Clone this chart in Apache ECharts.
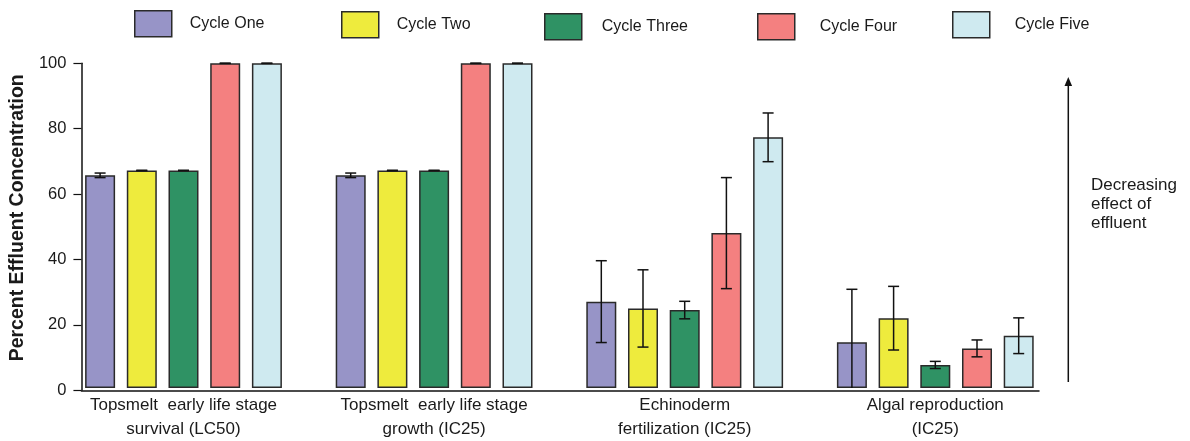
<!DOCTYPE html>
<html>
<head>
<meta charset="utf-8">
<title>Percent Effluent Concentration by Test Cycle</title>
<script src="https://cdn.jsdelivr.net/npm/echarts@6/dist/echarts.min.js"></script>
<style>
  html, body { margin: 0; padding: 0; background: #ffffff; }
  #chart { width: 1190px; height: 441px; }
</style>
</head>
<body>
<div id="chart"></div>
<script>
// Test endpoints (x categories)
const categories = [
  'Topsmelt  early life stage\nsurvival (LC50)',
  'Topsmelt  early life stage\ngrowth (IC25)',
  'Echinoderm\nfertilization (IC25)',
  'Algal reproduction\n(IC25)'
];

const seriesNames = ['Cycle One', 'Cycle Two', 'Cycle Three', 'Cycle Four', 'Cycle Five'];

// Mean percent effluent concentration per cycle
const cycleOne   = [65.5, 65.5, 26.6, 14.1];
const cycleTwo   = [67.0, 67.0, 24.5, 21.5];
const cycleThree = [67.0, 67.0, 24.0, 7.1];
const cycleFour  = [100, 100, 47.7, 12.2];
const cycleFive  = [100, 100, 77.2, 16.1];

// Error (± half range) per cycle
const cycleOneErr   = [0.7, 0.7, 12.6, 16.3];
const cycleTwoErr   = [0, 0, 11.9, 9.8];
const cycleThreeErr = [0, 0, 2.7, 1.1];
const cycleFourErr  = [0, 0, 17.1, 2.6];
const cycleFiveErr  = [0, 0, 7.5, 5.5];

const yTicks = [0, 20, 40, 60, 80, 100];

const means = [cycleOne, cycleTwo, cycleThree, cycleFour, cycleFive];
const errs = [cycleOneErr, cycleTwoErr, cycleThreeErr, cycleFourErr, cycleFiveErr];
const colors = ['#9794c7', '#eeeb3d', '#2f9264', '#f48080', '#cfeaf0'];

const FONT = "'Liberation Sans', Arial, Helvetica, sans-serif";
const TEXT = '#1a1a1a';
const BAR_W = 30;
const BAR_GAP = 0.39;
const PITCH = BAR_W * (1 + BAR_GAP);

// Legend boxes are individually placed across the top
const legendPos = [
  { left: 134, top: 10, gap: 13 },
  { left: 341, top: 11, gap: 13 },
  { left: 544, top: 13, gap: 15 },
  { left: 757, top: 13, gap: 20 },
  { left: 952, top: 11, gap: 20 }
];

const chart = echarts.init(document.getElementById('chart'), null, { renderer: 'canvas' });

const barSeries = seriesNames.map((name, i) => ({
  name: name,
  type: 'bar',
  xAxisIndex: 0,
  yAxisIndex: 0,
  barWidth: BAR_W,
  barGap: (BAR_GAP * 100) + '%',
  itemStyle: { color: colors[i], borderColor: '#2a2a2a', borderWidth: 1.5 },
  emphasis: { disabled: true },
  data: means[i]
}));

const errorSeries = seriesNames.map((name, i) => ({
  name: name + ' error',
  type: 'custom',
  xAxisIndex: 0,
  yAxisIndex: 0,
  z: 5,
  silent: true,
  data: means[i].map((m, k) => [k, Math.max(0, m - errs[i][k]), m + errs[i][k]]),
  renderItem: function (params, api) {
    const lo = api.coord([api.value(0), api.value(1)]);
    const hi = api.coord([api.value(0), api.value(2)]);
    const x = lo[0] + (i - 2) * PITCH;
    const cap = 5.5;
    const style = { stroke: '#111', lineWidth: 1.5 };
    const children = [
      { type: 'line', shape: { x1: x, y1: hi[1], x2: x, y2: lo[1] }, style: style },
      { type: 'line', shape: { x1: x - cap, y1: hi[1], x2: x + cap, y2: hi[1] }, style: style }
    ];
    if (api.value(1) > 0) {
      children.push({ type: 'line', shape: { x1: x - cap, y1: lo[1], x2: x + cap, y2: lo[1] }, style: style });
    }
    return { type: 'group', children: children };
  }
}));

const option = {
  backgroundColor: '#ffffff',
  animation: false,
  textStyle: { fontFamily: FONT },
  legend: seriesNames.map((name, i) => ({
    data: [name],
    left: legendPos[i].left,
    top: legendPos[i].top,
    padding: 0,
    itemWidth: 37,
    itemHeight: 26,
    selectedMode: false,
    icon: 'rect',
    itemStyle: { borderColor: '#2a2a2a', borderWidth: 1.5 },
    textStyle: { fontFamily: FONT, fontSize: 16, color: TEXT, padding: [2, 0, 0, legendPos[i].gap] }
  })),
  grid: [
    // bar grid: category bands
    { left: 58.2, width: 1002.4, top: 63.3, height: 327, containLabel: false },
    // axis frame grid
    { left: 79.3, width: 959.7, top: 63.3, height: 327, containLabel: false }
  ],
  xAxis: [
    {
      type: 'category',
      gridIndex: 0,
      data: categories,
      axisLine: { show: false },
      axisTick: { show: false },
      axisLabel: {
        interval: 0,
        margin: 5,
        fontFamily: FONT,
        fontSize: 17,
        lineHeight: 24,
        color: TEXT
      }
    },
    {
      type: 'value',
      gridIndex: 1,
      min: 0,
      max: 1,
      axisLine: { show: true, lineStyle: { color: '#111', width: 1.5 } },
      axisTick: { show: false },
      axisLabel: { show: false },
      splitLine: { show: false }
    }
  ],
  yAxis: [
    {
      type: 'value',
      gridIndex: 0,
      min: 0,
      max: 100,
      interval: 20,
      show: false,
      splitLine: { show: false }
    },
    {
      type: 'value',
      gridIndex: 1,
      min: yTicks[0],
      max: yTicks[yTicks.length - 1],
      interval: yTicks[1] - yTicks[0],
      name: 'Percent Effluent Concentration',
      nameLocation: 'middle',
      nameGap: 45,
      nameTextStyle: {
        fontFamily: FONT,
        fontSize: 19.5,
        fontWeight: 'bold',
        color: TEXT,
        padding: [0, 0, 0, 18]
      },
      axisLine: { show: true, lineStyle: { color: '#111', width: 1.5 } },
      axisTick: { show: true, length: 8, lineStyle: { color: '#111', width: 1.2 } },
      axisLabel: { margin: 15, fontFamily: FONT, fontSize: 16.5, color: TEXT },
      splitLine: { show: false }
    }
  ],
  graphic: [
    {
      type: 'group',
      silent: true,
      children: [
        {
          type: 'line',
          shape: { x1: 1068.3, y1: 382, x2: 1068.3, y2: 84 },
          style: { stroke: '#111', lineWidth: 1.5 }
        },
        {
          type: 'polygon',
          shape: { points: [[1068.3, 77], [1064.5, 86], [1072.1, 86]] },
          style: { fill: '#111' }
        }
      ]
    },
    {
      type: 'text',
      left: 1091,
      top: 176,
      silent: true,
      style: {
        text: 'Decreasing\neffect of\neffluent',
        font: '17px ' + FONT,
        fill: TEXT,
        lineHeight: 19
      }
    }
  ],
  series: barSeries.concat(errorSeries)
};

chart.setOption(option);
</script>
</body>
</html>
